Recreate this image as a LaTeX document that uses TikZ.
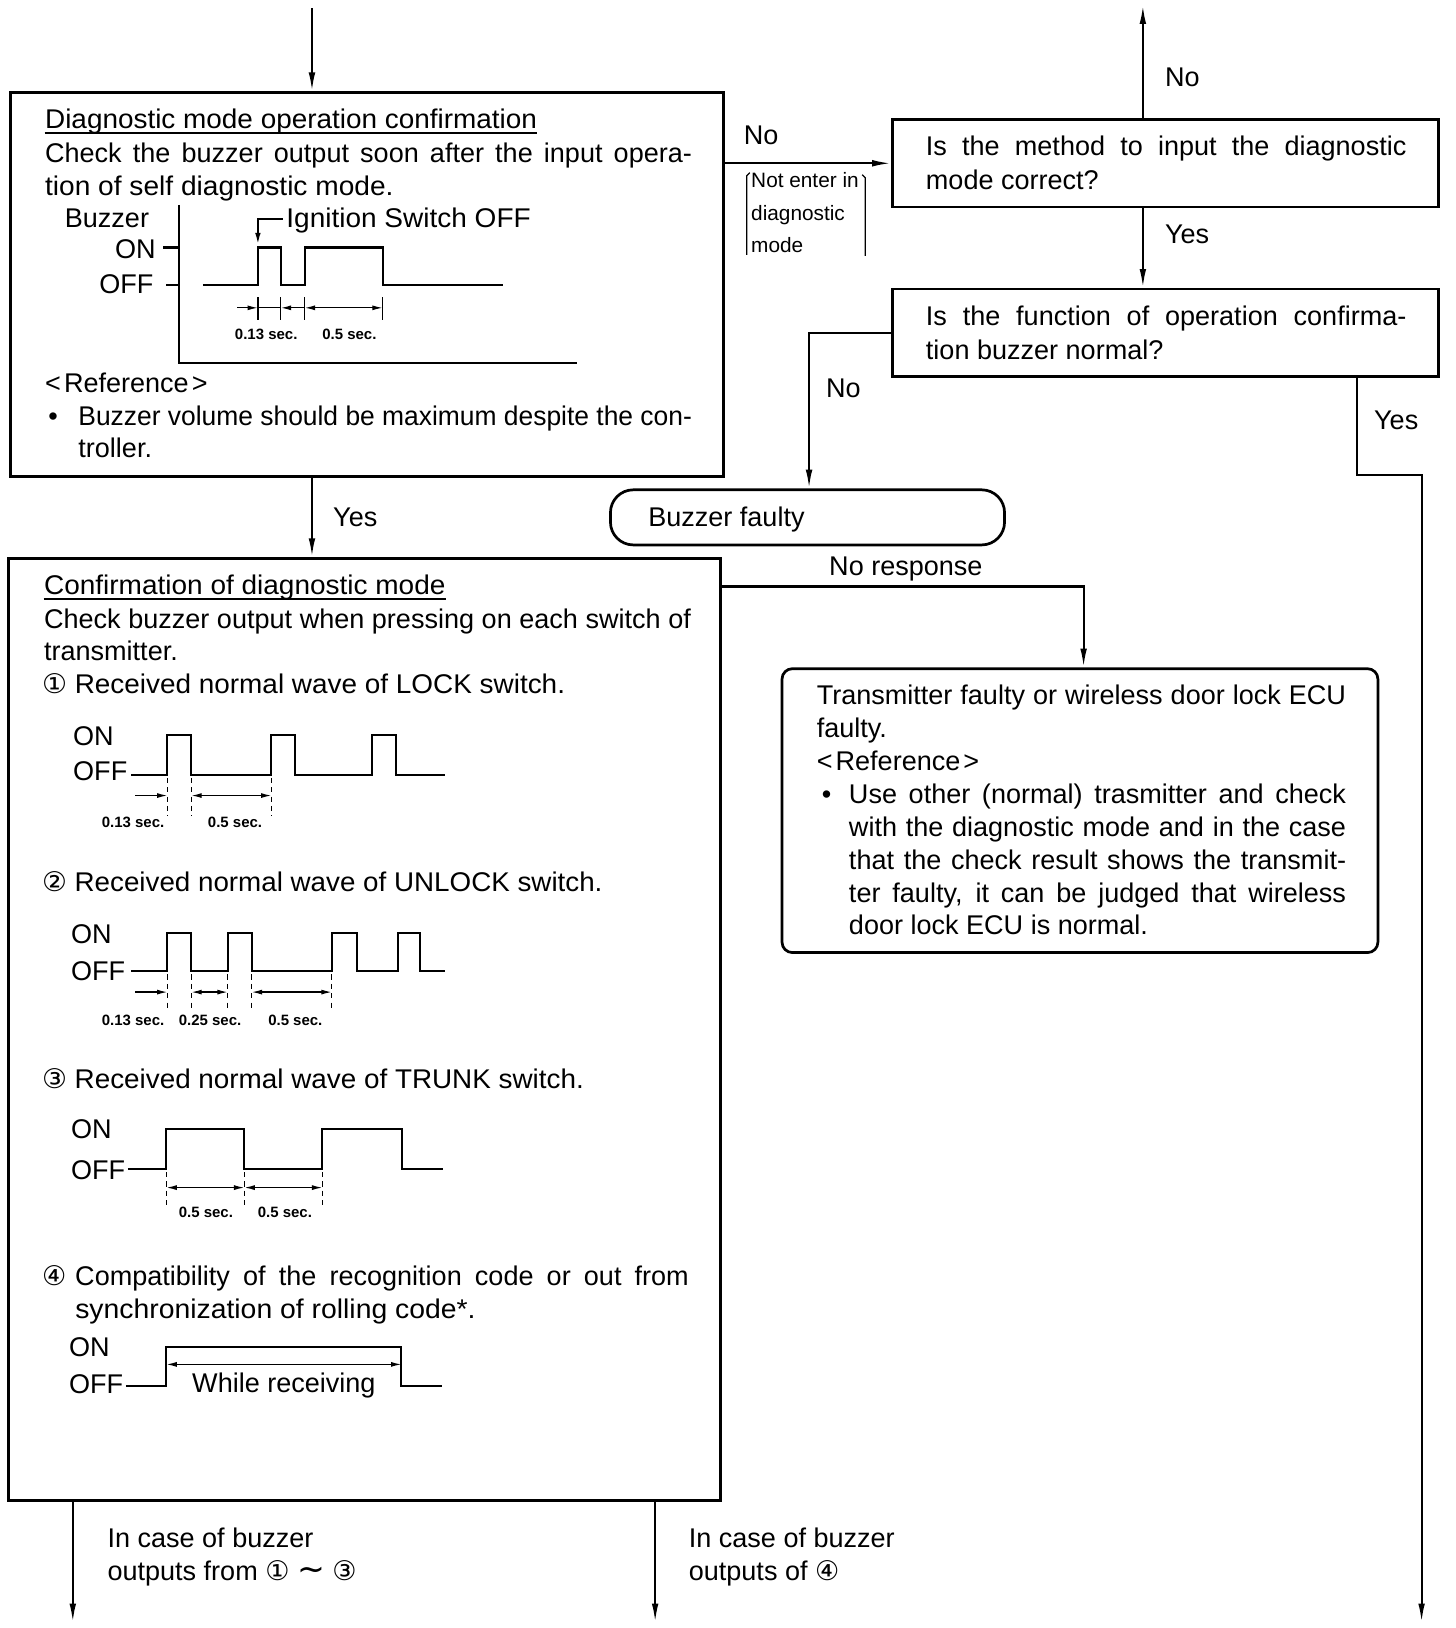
\documentclass[tikz,border=0pt]{standalone}
\usepackage{fontspec}
\usepackage{graphicx}
\setmainfont{Liberation Sans}
\newfontfamily\dv{DejaVu Sans}
\usetikzlibrary{arrows.meta,fit}
\newcommand{\mfont}{\fontsize{13}{15}\selectfont}
\newcommand{\secfont}{\fontsize{7.2}{9}\selectfont\bfseries}
\newcommand{\parfont}{\fontsize{10}{12}\selectfont}
\newsavebox{\jlbox}
\newcommand{\jl}[2]{\sbox{\jlbox}{#2}\ifdim\wd\jlbox>#1\relax\resizebox{#1}{\height}{#2}\else\makebox[#1][s]{#2}\fi}
\newcommand{\fw}[2]{\resizebox{#1}{\height}{#2}}
\newcommand{\cnum}[1]{{\dv #1}}
\newcommand{\refword}{<\kern1.5pt Reference\kern1.5pt>}
\tikzset{
  box/.style={draw, line width=1.3pt, inner sep=0pt},
  conn/.style={line width=1pt},
  arr/.style={conn, -{Latex[length=9pt,width=3.2pt]}},
  wave/.style={line width=1pt},
  dim/.style={line width=0.6pt},
  dtip/.style={dim, -{Latex[length=5pt,width=2.4pt]}},
  dimarr/.style={dim, {Latex[length=5pt,width=2.4pt]}-{Latex[length=5pt,width=2.4pt]}},
  dsh/.style={line width=0.6pt, dash pattern=on 2.5pt off 2pt},
  txt/.style={inner sep=0pt, anchor=base west, font=\mfont},
  txte/.style={inner sep=0pt, anchor=base east, font=\mfont},
  sec/.style={inner sep=0pt, anchor=base, font=\secfont},
  ptxt/.style={inner sep=0pt, anchor=base west, font=\parfont},
}
\begin{document}
\begin{tikzpicture}[x=0.5pt,y=-0.5pt]
\useasboundingbox (0,0) rectangle (1400,1565.5);
% ---------------- boxes
\node[box, fit={(10,89) (696,458)}] (b1) {};
\node[box, fit={(858,115) (1383,199)}] (b2) {};
\node[box, fit={(858,278) (1383,362)}] (b3) {};
\node[box, rounded corners=11pt, fit={(587,471) (966,524)}] (bf) {};
\node[box, fit={(8,537) (693,1443)}] (b4) {};
\node[box, rounded corners=5pt, fit={(752,643) (1325,916)}] (b5) {};
% ---------------- connectors
\coordinate (start) at (300,8);
\draw[arr] (start) -- (start |- b1.north);
\draw[arr] (b1.south -| start) -- (b4.north -| start);
\draw[arr] (b1.east |- b2.west) -- (b2.west);
\coordinate (upend) at (1099,5);
\draw[arr] (b2.north -| upend) -- (upend);
\draw[arr] (b2.south -| upend) -- (b3.north -| upend);
\coordinate (nox) at (778,0);
\draw[arr] (b3.west) -| (nox |- bf.north);
\coordinate (yes1) at (1305,457);
\coordinate (yes2) at (1367,1560);
\draw[arr] (b3.south -| yes1) -- (yes1) -| (yes2);
\coordinate (nr) at (1042,564);
\draw[arr] (b4.east |- nr) -| (b5.north -| nr);
\coordinate (o1) at (70,1560);
\coordinate (o4) at (630,1560);
\draw[arr] (b4.south -| o1) -- (o1);
\draw[arr] (b4.south -| o4) -- (o4);
% ---------------- connector labels
\node[txt] (lno1) at (715,139) {No};
\node[txt] (lno2) at (1120,83) {No};
\node[txt] (lyes1) at (1120,234) {Yes};
\node[txt] (lno3) at (794,382) {No};
\node[txt] (lyes2) at (1321,413) {Yes};
\node[txt] (lyes3) at (320,506) {Yes};
\node[txt] (lnr) at (797,553) {No response};
\node[ptxt] (p1) at (722,180) {Not enter in};
\node[ptxt] (p2) at (722,212) {diagnostic};
\node[ptxt] (p3) at (722,243) {mode};
\draw[dim] (721,166) -- (718,169) -- (718,245);
\draw[dim] (829,168) -- (832,171) -- (832,246);
\node[txt] (l13a) at (103,1488) {In case of buzzer};
\node[txt] (l13b) at (103,1520) {outputs from \cnum{①} {\dv\fontsize{16}{16}\selectfont ∼} \cnum{③}};
\node[txt] (l4a) at (662,1488) {In case of buzzer};
\node[txt] (l4b) at (662,1520) {outputs of \cnum{④}};
% ---------------- box 1
\node[txt] (t11) at (43,124) {\fw{236.5pt}{Diagnostic mode operation confirmation}};
\draw[conn] ([yshift=-2pt]t11.base west) -- ([yshift=-2pt]t11.base east);
\node[txt] (t12) at (43,156) {\jl{311pt}{Check the buzzer output soon after the input opera-}};
\node[txt] (t13) at (43,188) {\fw{167.5pt}{tion of self diagnostic mode.}};
\node[txt] (tbz) at (62,219) {Buzzer};
\node[txte] (ton) at (150,249) {ON};
\node[txte] (toff) at (148,282) {OFF};
\draw[conn] (172,197) -- (172,349) -- (555,349);
\draw[conn] (157,238) -- (172,238);
\draw[conn] (160,274) -- (172,274);
\draw[wave] (195,274) -- (248,274) -- (248,238) -- (270,238) -- (270,274) -- (293,274) -- (293,238) -- (368,238) -- (368,274) -- (484,274);
\draw[conn, -{Latex[length=6pt,width=2.6pt]}] (272,211) -- (248,211) -- (248,236);
\node[txt] (tig) at (275,219) {\fw{117.5pt}{Ignition Switch OFF}};
\foreach \x in {248,270,293,368} \draw[dim] (\x,286) -- (\x,308);
\draw[dtip] (228,296) -- (248,296);
\draw[dim] (248,296) -- (270,296);
\draw[dtip] (293,296) -- (270,296);
\draw[dimarr] (293,296) -- (368,296);
\node[sec] (s11) at (256,326) {0.13 sec.};
\node[sec] (s12) at (336,326) {0.5 sec.};
\node[txt] (tref1) at (43,377) {\refword};
\node[txt] (tbul1) at (46,409) {•};
\node[txt] (t14) at (75,409) {\jl{295pt}{Buzzer volume should be maximum despite the con-}};
\node[txt] (t15) at (75,440) {troller.};
% ---------------- box 2 / box 3
\node[txt] (t21) at (890,150) {\jl{231pt}{Is the method to input the diagnostic}};
\node[txt] (t22) at (890,182) {mode correct?};
\node[txt] (t31) at (890,313) {\jl{231pt}{Is the function of operation confirma-}};
\node[txt] (t32) at (890,346) {tion buzzer normal?};
\node[txt] (tbf) at (623,506) {Buzzer faulty};
% ---------------- box 5
\node[txt] (t51) at (785,677) {\jl{254.5pt}{Transmitter faulty or wireless door lock ECU}};
\node[txt] (t52) at (785,709) {faulty.};
\node[txt] (t53) at (785,741) {\refword};
\node[txt] (tbul5) at (790,773) {•};
\node[txt] (t54) at (816,773) {\jl{239pt}{Use other (normal) trasmitter and check}};
\node[txt] (t55) at (816,804) {\jl{239pt}{with the diagnostic mode and in the case}};
\node[txt] (t56) at (816,836) {\jl{239pt}{that the check result shows the transmit-}};
\node[txt] (t57) at (816,868) {\jl{239pt}{ter faulty, it can be judged that wireless}};
\node[txt] (t58) at (816,899) {door lock ECU is normal.};
% ---------------- box 4
\node[txt] (t41) at (42,572) {\fw{193pt}{Confirmation of diagnostic mode}};
\draw[conn] ([yshift=-2pt]t41.base west) -- ([yshift=-2pt]t41.base east);
\node[txt] (t42) at (42,604) {\jl{311pt}{Check buzzer output when pressing on each switch of}};
\node[txt] (t43) at (42,635) {transmitter.};
\node[txt] (t44) at (40,667) {\fw{251.5pt}{\cnum{①} Received normal wave of LOCK switch.}};
% wave 1
\node[txt] (w1on) at (70,717) {ON};
\node[txt] (w1off) at (70,751) {OFF};
\draw[wave] (126,745) -- (161,745) -- (161,707) -- (184,707) -- (184,745) -- (261,745) -- (261,707) -- (284,707) -- (284,745) -- (358,745) -- (358,707) -- (381,707) -- (381,745) -- (428,745);
\foreach \x in {161,184,261} \draw[dsh] (\x,748) -- (\x,785);
\draw[dtip] (130,765) -- (161,765);
\draw[dimarr] (184,765) -- (261,765);
\node[sec] (s21) at (128,796) {0.13 sec.};
\node[sec] (s22) at (226,796) {0.5 sec.};
\node[txt] (t45) at (40,857) {\fw{269.5pt}{\cnum{②} Received normal wave of UNLOCK switch.}};
% wave 2
\node[txt] (w2on) at (68,907) {ON};
\node[txt] (w2off) at (68,943) {OFF};
\draw[wave] (126,934) -- (161,934) -- (161,897) -- (184,897) -- (184,934) -- (219,934) -- (219,897) -- (242,897) -- (242,934) -- (319,934) -- (319,897) -- (343,897) -- (343,934) -- (383,934) -- (383,897) -- (404,897) -- (404,934) -- (428,934);
\foreach \x in {161,184,219,242,319} \draw[dsh] (\x,937) -- (\x,970);
\draw[dtip] (130,954) -- (161,954);
\draw[dimarr] (184,954) -- (219,954);
\draw[dimarr] (242,954) -- (319,954);
\node[sec] (s31) at (128,986) {0.13 sec.};
\node[sec] (s32) at (202,986) {0.25 sec.};
\node[sec] (s33) at (284,986) {0.5 sec.};
\node[txt] (t46) at (40,1047) {\fw{260.5pt}{\cnum{③} Received normal wave of TRUNK switch.}};
% wave 3
\node[txt] (w3on) at (68,1095) {ON};
\node[txt] (w3off) at (68,1134) {OFF};
\draw[wave] (123,1124) -- (160,1124) -- (160,1086) -- (235,1086) -- (235,1124) -- (310,1124) -- (310,1086) -- (387,1086) -- (387,1124) -- (426,1124);
\foreach \x in {160,235,310} \draw[dsh] (\x,1127) -- (\x,1160);
\draw[dimarr] (160,1142) -- (235,1142);
\draw[dimarr] (235,1142) -- (310,1142);
\node[sec] (s41) at (198,1171) {0.5 sec.};
\node[sec] (s42) at (274,1171) {0.5 sec.};
\node[txt] (t47) at (40,1236) {\jl{311pt}{\cnum{④}\kern-2pt{} Compatibility of the recognition code or out from}};
\node[txt] (t48) at (72,1268) {\fw{192.5pt}{synchronization of rolling code*.}};
% wave 4
\node[txt] (w4on) at (66,1304) {ON};
\node[txt] (w4off) at (66,1340) {OFF};
\draw[wave] (121,1333) -- (160,1333) -- (160,1295) -- (386,1295) -- (386,1333) -- (425,1333);
\draw[dimarr] (160,1312) -- (386,1312);
\node[inner sep=0pt, anchor=base, font=\mfont] (twr) at (273,1339) {While receiving};
\end{tikzpicture}
\end{document}
